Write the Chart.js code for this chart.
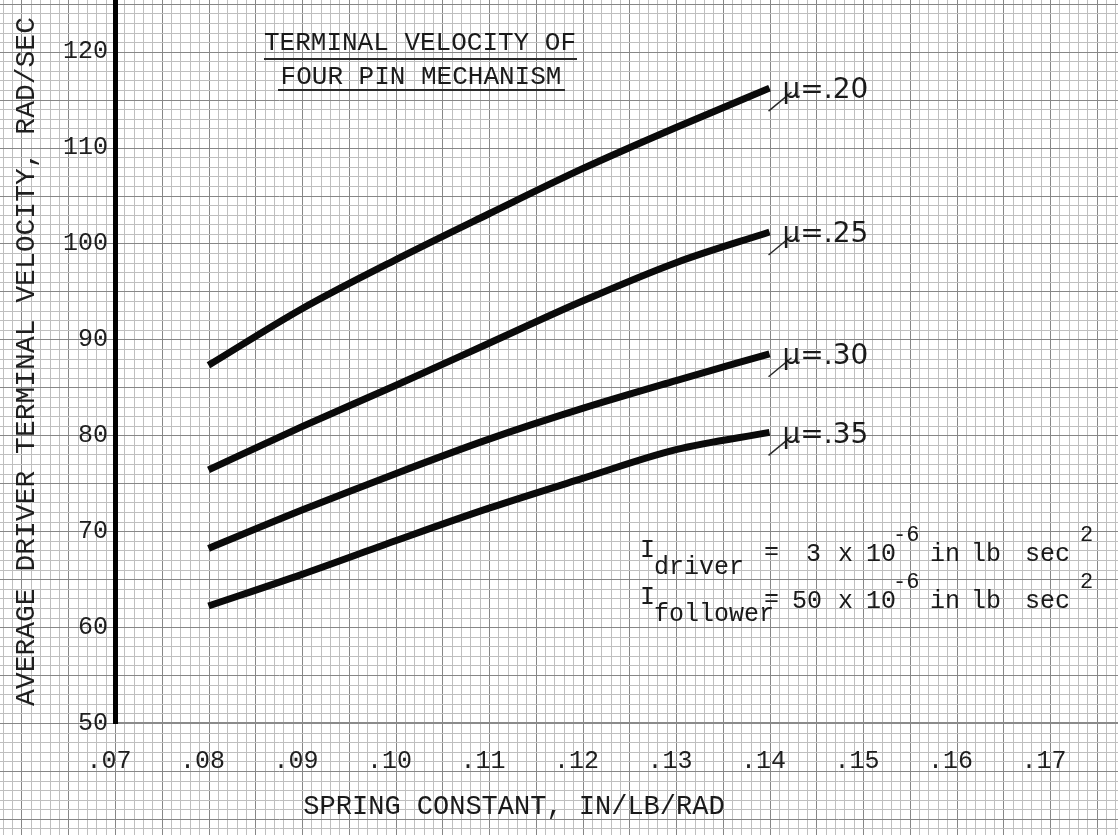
<!DOCTYPE html>
<html>
<head>
<meta charset="utf-8">
<title>Terminal Velocity of Four Pin Mechanism</title>
<script src="https://cdn.jsdelivr.net/npm/chart.js@4/dist/chart.umd.min.js"></script>
<style>
    html, body { margin: 0; padding: 0; background: #fff; }
    #wrap { width: 1118px; height: 835px; }
</style>
</head>
<body>
<div id="wrap"><canvas id="myChart" width="1118" height="835"></canvas></div>
<script>
(function () {
    "use strict";

    // spring constant, in/lb/rad
    var springConstant = [0.08, 0.09, 0.10, 0.11, 0.12, 0.13, 0.14];

    // average driver terminal velocity, rad/sec
    var mu20 = [87.3, 93.2, 98.3, 103.1, 107.8, 112.1, 116.2];
    var mu25 = [76.4, 80.9, 85.2, 89.6, 94.0, 98.0, 101.2];
    var mu30 = [68.2, 72.2, 76.0, 79.6, 82.8, 85.7, 88.5];
    var mu35 = [62.2, 65.5, 69.0, 72.4, 75.5, 78.5, 80.3];
    var curveLabels = ['.20', '.25', '.30', '.35'];

    var xTicks = [0.07, 0.08, 0.09, 0.10, 0.11, 0.12, 0.13, 0.14, 0.15, 0.16, 0.17];
    var yTicks = [50, 60, 70, 80, 90, 100, 110, 120];

    var typeFont = '"Liberation Mono", "DejaVu Sans Mono", monospace';
    var handFont = '"DejaVu Sans", "Noto Sans", sans-serif';

    function points(values) {
        return springConstant.map(function (x, i) {
            return { x: x, y: values[i] };
        });
    }

    function curve(label, values) {
        return {
            label: label,
            data: points(values),
            borderColor: '#0a0a0a',
            borderWidth: 7,
            cubicInterpolationMode: 'monotone',
            pointRadius: 0,
            fill: false
        };
    }

    // graph paper behind everything, laid out on the chart's own scales
    var paperPlugin = {
        id: 'paper',
        beforeDraw: function (chart) {
            var ctx = chart.ctx;
            var xs = chart.scales.x;
            var ys = chart.scales.y;
            var k, p;

            ctx.save();
            ctx.fillStyle = '#ffffff';
            ctx.fillRect(0, 0, chart.width, chart.height);
            ctx.lineWidth = 1;

            for (k = 57; k <= 178; k++) {
                p = Math.round(xs.getPixelForValue(k / 1000)) + 0.5;
                ctx.strokeStyle = (k % 5 === 0) ? '#878787' : '#bfbfbf';
                ctx.beginPath();
                ctx.moveTo(p, 0);
                ctx.lineTo(p, chart.height);
                ctx.stroke();
            }
            for (k = 36; k <= 126; k++) {
                p = Math.round(ys.getPixelForValue(k)) + 0.5;
                ctx.strokeStyle = (k % 5 === 0) ? '#878787' : '#bfbfbf';
                ctx.beginPath();
                ctx.moveTo(0, p);
                ctx.lineTo(chart.width, p);
                ctx.stroke();
            }
            ctx.restore();
        }
    };

    // typed title, axis caption, inertia note and the hand written mu labels
    var notesPlugin = {
        id: 'notes',
        afterDraw: function (chart) {
            var ctx = chart.ctx;

            ctx.save();
            ctx.fillStyle = '#1a1a1a';
            ctx.strokeStyle = '#2a2a2a';
            ctx.textBaseline = 'alphabetic';

            // title
            ctx.font = '26px ' + typeFont;
            ctx.textAlign = 'center';
            ctx.fillText('TERMINAL VELOCITY OF', 420, 50);
            ctx.fillText('FOUR PIN MECHANISM', 421, 84);
            ctx.lineWidth = 2;
            ctx.beginPath();
            ctx.moveTo(264, 59);
            ctx.lineTo(577, 59);
            ctx.moveTo(278, 90);
            ctx.lineTo(565, 90);
            ctx.stroke();

            // x axis caption
            ctx.font = '27px ' + typeFont;
            ctx.fillText('SPRING CONSTANT, IN/LB/RAD', 514, 814);

            // inertia note
            ctx.textAlign = 'left';
            var rows = [
                { y: 561, sub: 'driver', num: '3', numX: 806 },
                { y: 608, sub: 'follower', num: '50', numX: 792 }
            ];
            rows.forEach(function (r) {
                ctx.font = '25px ' + typeFont;
                ctx.fillText('I', 640, r.y - 4);
                ctx.fillText(r.sub, 654, r.y + 13);
                ctx.fillText('=', 764, r.y - 2);
                ctx.fillText(r.num, r.numX, r.y);
                ctx.fillText('x', 838, r.y);
                ctx.fillText('10', 866, r.y);
                ctx.fillText('in', 930, r.y);
                ctx.fillText('lb', 971, r.y);
                ctx.fillText('sec', 1025, r.y);
                ctx.font = '22px ' + typeFont;
                ctx.fillText('-6', 893, r.y - 20);
                ctx.fillText('2', 1080, r.y - 20);
            });

            // mu labels at the end of each curve
            ctx.font = '28px ' + handFont;
            ctx.textBaseline = 'middle';
            ctx.lineWidth = 1.5;
            chart.data.datasets.forEach(function (ds, i) {
                var meta = chart.getDatasetMeta(i);
                var last = meta.data[meta.data.length - 1];
                ctx.beginPath();
                ctx.moveTo(last.x - 1, last.y + 23);
                ctx.lineTo(last.x + 22, last.y + 4);
                ctx.stroke();
                ctx.fillText('\u03bc=' + curveLabels[i], last.x + 13, last.y + 3);
            });

            ctx.restore();
        }
    };

    var ctx = document.getElementById('myChart').getContext('2d');

    var myChart = new Chart(ctx, {
        type: 'line',
        data: {
            datasets: [
                curve('\u03bc = .20', mu20),
                curve('\u03bc = .25', mu25),
                curve('\u03bc = .30', mu30),
                curve('\u03bc = .35', mu35)
            ]
        },
        options: {
            responsive: false,
            animation: false,
            events: [],
            layout: { padding: 0 },
            plugins: {
                legend: { display: false },
                tooltip: { enabled: false },
                title: { display: false }
            },
            scales: {
                x: {
                    type: 'linear',
                    min: 0.07,
                    max: 0.17727,
                    grid: { display: false, drawTicks: false },
                    border: { display: true, color: '#8a8a8a', width: 2 },
                    afterBuildTicks: function (axis) {
                        axis.ticks = xTicks.map(function (v) { return { value: v }; });
                    },
                    afterFit: function (axis) {
                        axis.height = 112;
                        axis.paddingLeft = 0;
                        axis.paddingRight = 0;
                    },
                    ticks: {
                        autoSkip: false,
                        maxRotation: 0,
                        padding: 23,
                        labelOffset: -6,
                        color: '#1e1e1e',
                        font: { family: typeFont, size: 25 },
                        callback: function (value) {
                            return value.toFixed(2).replace('0.', '.');
                        }
                    }
                },
                y: {
                    type: 'linear',
                    min: 50,
                    max: 125.39,
                    grid: { display: false, drawTicks: false },
                    border: { display: true, color: '#000000', width: 5 },
                    afterBuildTicks: function (axis) {
                        axis.ticks = yTicks.map(function (v) { return { value: v }; });
                    },
                    afterFit: function (axis) {
                        axis.width = 115;
                        axis.paddingTop = 0;
                        axis.paddingBottom = 0;
                    },
                    title: {
                        display: true,
                        text: 'AVERAGE DRIVER TERMINAL VELOCITY, RAD/SEC',
                        color: '#1e1e1e',
                        font: { family: typeFont, size: 28, lineHeight: 1.2 },
                        padding: { top: 10, bottom: 0 }
                    },
                    ticks: {
                        padding: 7,
                        color: '#1e1e1e',
                        font: { family: typeFont, size: 25 }
                    }
                }
            }
        },
        plugins: [paperPlugin, notesPlugin]
    });
})();
</script>
</body>
</html>
